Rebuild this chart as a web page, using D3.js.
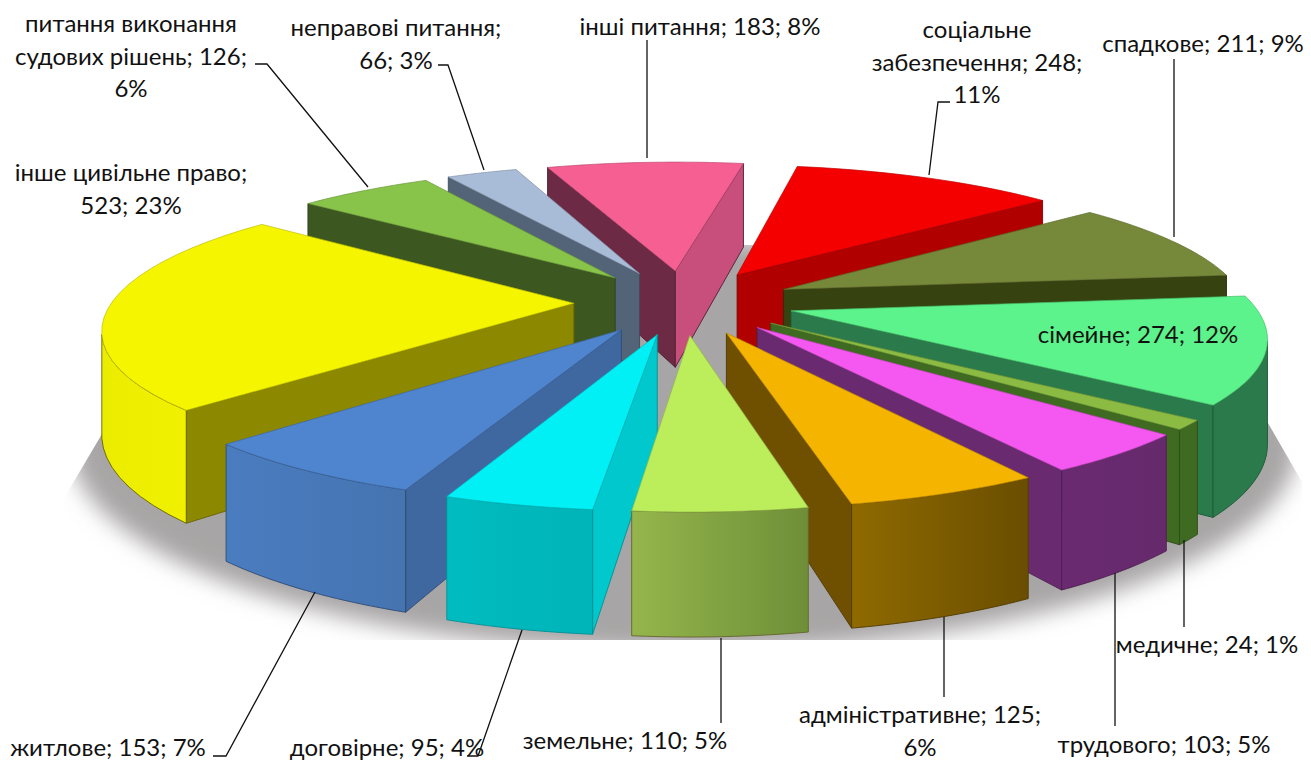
<!DOCTYPE html>
<html lang="uk">
<head>
  <meta charset="UTF-8">
  <title>Pie</title>
  <script src="https://d3js.org/d3.v7.min.js"></script>
  <style>
    body { margin: 0; background: #fff; }
    svg { display: block; }
    text { font-family: Lato, "Noto Sans", sans-serif; font-size: 24px; fill: #111; text-anchor: middle; }
  </style>
</head>
<body>
  <svg width="1311" height="762"></svg>
  <script>
    const categories = ["соціальне забезпечення", "спадкове", "сімейне", "медичне", "трудового", "адміністративне",
      "земельне", "договірне", "житлове", "інше цивільне право", "питання виконання судових рішень", "неправові питання", "інші питання"];
    const values = [248, 211, 274, 24, 103, 125, 110, 95, 153, 523, 126, 66, 183];
    const percents = [11, 9, 12, 1, 5, 6, 5, 4, 7, 23, 6, 3, 8];

    // top face, radial walls, outer wall (left, right of the gradient)
    const topColors = ["#f40000", "#76883a", "#5cf28c", "#8cbb44", "#f558f0", "#f5b400", "#bcee5c", "#00f0f5", "#4f84cf", "#f5f500", "#88c34a", "#a8bcd8", "#f55f92"];
    const startWallColors = ["#b00000", "#36420f", "#2a7a4c", "#3f6a22", "#6a2a70", "#6e5000", "#8a8a40", "#00c8cc", "#3f68a0", "#8c8800", "#3c5820", "#546478", "#6c2a44"];
    const endWallColors = ["#b00000", "#36420f", "#2a7a4c", "#3f6a22", "#6a2a70", "#6e5000", "#8a8a40", "#00c8cc", "#3f68a0", "#8c8800", "#3c5820", "#546478", "#c84e7c"];
    const outerLeft = ["#b00000", "#36420f", "#2a7a4c", "#3f6a22", "#6a2a70", "#8f6a00", "#95b54c", "#00bcc0", "#4a7cc0", "#ecec00", "#3c5820", "#546478", "#c84e7c"];
    const outerRight = ["#900000", "#36420f", "#2a7a4c", "#3f6a22", "#662a6c", "#6a4e00", "#6e8f38", "#00b4b8", "#4574b0", "#f0f000", "#3c5820", "#546478", "#c84e7c"];

    const labelLines = [
      ["соціальне", "забезпечення; 248;", "11%"], ["спадкове; 211; 9%"], ["сімейне; 274; 12%"], ["медичне; 24; 1%"],
      ["трудового; 103; 5%"], ["адміністративне; 125;", "6%"], ["земельне; 110; 5%"], ["договірне; 95; 4%"],
      ["житлове; 153; 7%"], ["інше цивільне право;", "523; 23%"], ["питання виконання", "судових рішень; 126;", "6%"],
      ["неправові питання;", "66; 3%"], ["інші питання; 183; 8%"]
    ];
    const labelX = [977, 1203, 1138, 1207, 1164, 920, 625, 387, 108, 131, 131, 396, 700];
    const labelY = [30, 44, 335, 645, 745, 715, 741, 748, 748, 173, 24, 28, 27];
    const leaders = [
      [[950, 102], [938, 102], [929, 175]], [[1174, 59], [1174, 237]], [], [[1184, 627], [1184, 540]],
      [[1115, 726], [1115, 573]], [[944, 697], [944, 617]], [[721, 723], [721, 638]], [[467, 756], [478, 756], [522, 630]],
      [[213, 756], [226, 756], [315, 592]], [], [[255, 64], [267, 64], [368, 187]], [[438, 65], [448, 65], [484, 170]], [[647, 40], [647, 158]]
    ];

    const width = 1311, height = 762;
    const cx = 684, cy = 302;
    const radius = 462, explode = 110, depth = 100, tilt = 0.2937, persp = 0.00035;

    const svg = d3.select("svg");
    const defs = svg.append("defs");

    // flat plane coordinates -> screen, nearer points get bigger
    function project(x, y, z) {
      const s = 1 / (1 - persp * y);
      return [cx + x * s, cy + (y * tilt + z) * s];
    }

    const pie = d3.pie().sort(null).startAngle(10 * Math.PI / 180).endAngle(370 * Math.PI / 180);
    const slices = pie(values).map((d, i) => {
      const mid = (d.startAngle + d.endAngle) / 2;
      const ox = explode * Math.sin(mid), oy = -explode * Math.cos(mid);
      const angles = d3.range(0, 25).map(k => d.startAngle + (d.endAngle - d.startAngle) * k / 24);
      const rim = angles.map(a => [ox + radius * Math.sin(a), oy - radius * Math.cos(a)]);
      return { i, mid, ox, oy, rim, sortY: oy - (radius * 0.6) * Math.cos(mid) };
    });

    const line = d3.line();
    const closed = pts => line(pts) + "Z";
    function cross(a, b, c) {
      return (b[0] - a[0]) * (c[1] - b[1]) - (b[1] - a[1]) * (c[0] - b[0]);
    }

    // shadow on the floor
    const blur = defs.append("filter").attr("id", "blur").attr("x", "-10%").attr("y", "-20%").attr("width", "120%").attr("height", "140%");
    blur.append("feGaussianBlur").attr("stdDeviation", 11);
    defs.append("clipPath").attr("id", "shadowClip").append("polygon")
      .attr("points", "60,505 112,417 300,245 1100,245 1268,423 1302,482 1302,640 60,640");
    const floor = d3.range(0, 361, 4).map(a => {
      const t = a * Math.PI / 180;
      return project(600 * Math.sin(t), -600 * Math.cos(t), depth);
    });
    svg.append("g").attr("clip-path", "url(#shadowClip)")
      .append("path").attr("d", closed(floor)).attr("fill", "#a8a5a6").attr("filter", "url(#blur)");

    const pieG = svg.append("g").attr("stroke-linejoin", "round");

    slices.slice().sort((a, b) => a.sortY - b.sortY).forEach(s => {
      const g = pieG.append("g");
      const i = s.i;
      const edge = d3.color(startWallColors[i]).darker(0.9);
      const aTop = project(s.ox, s.oy, 0), aBot = project(s.ox, s.oy, depth);
      const rTop = s.rim.map(p => project(p[0], p[1], 0));
      const rBot = s.rim.map(p => project(p[0], p[1], depth));
      const n = rTop.length - 1;

      // radial walls, only those turned to the viewer
      if (cross(aTop, rTop[0], rBot[0]) < 0) {
        g.append("path").attr("d", closed([aTop, rTop[0], rBot[0], aBot]))
          .attr("fill", startWallColors[i]).attr("stroke", edge).attr("stroke-width", 0.9);
      }
      if (cross(aTop, rTop[n], rBot[n]) > 0) {
        g.append("path").attr("d", closed([aTop, rTop[n], rBot[n], aBot]))
          .attr("fill", endWallColors[i]).attr("stroke", edge).attr("stroke-width", 0.9);
      }

      // outer wall
      const visible = d3.range(0, n).filter(k => cross(rTop[k], rTop[k + 1], rBot[k + 1]) < 0);
      if (visible.length) {
        const from = visible[0], to = visible[visible.length - 1] + 1;
        const gradId = "outer" + i;
        const grad = defs.append("linearGradient").attr("id", gradId);
        grad.append("stop").attr("offset", 0).attr("stop-color", outerLeft[i]);
        grad.append("stop").attr("offset", 1).attr("stop-color", outerRight[i]);
        g.append("path")
          .attr("d", closed(rTop.slice(from, to + 1).concat(rBot.slice(from, to + 1).reverse())))
          .attr("fill", `url(#${gradId})`).attr("stroke", edge).attr("stroke-width", 0.9);
      }

      g.append("path").attr("d", closed([aTop].concat(rTop)))
        .attr("fill", topColors[i]).attr("stroke", d3.color(topColors[i]).darker(0.7)).attr("stroke-width", 0.7);
    });

    svg.append("g").selectAll("path").data(leaders.filter(l => l.length)).enter().append("path")
      .attr("d", d => line(d)).attr("fill", "none").attr("stroke", "#111").attr("stroke-width", 1.3);

    const labels = svg.append("g").selectAll("text").data(labelLines).enter().append("text")
      .attr("y", (d, i) => labelY[i] + 8);
    labels.selectAll("tspan").data((d, i) => d.map(t => ({ t, x: labelX[i] }))).enter().append("tspan")
      .attr("x", d => d.x).attr("dy", (d, k) => k ? 32.5 : 0).text(d => d.t);
  </script>
</body>
</html>
